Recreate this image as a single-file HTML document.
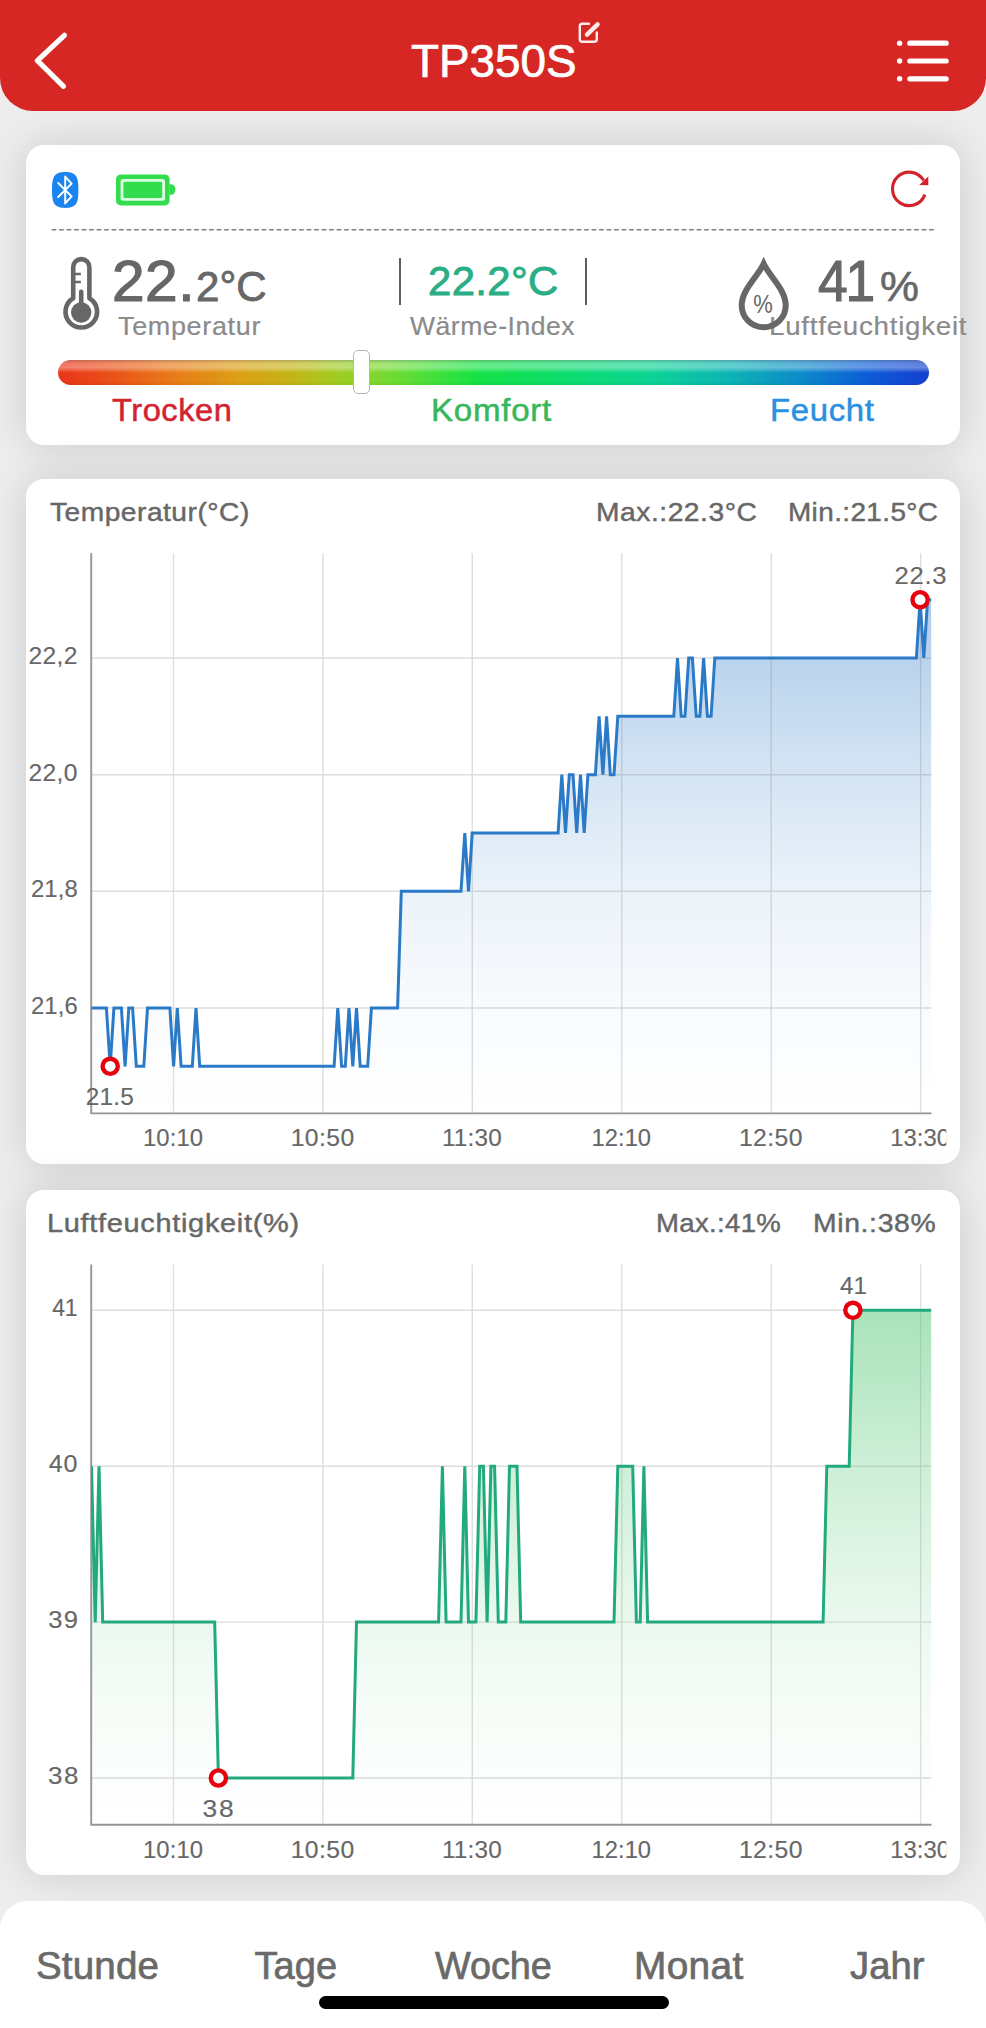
<!DOCTYPE html>
<html lang="de">
<head>
<meta charset="utf-8">
<meta name="viewport" content="width=986">
<title>TP350S</title>
<style>
*{box-sizing:border-box;margin:0;padding:0}
html,body{width:986px;height:2028px;overflow:hidden;background:#ededed;font-family:'Liberation Sans', Arial, Helvetica, sans-serif;}
body{position:relative}
.t{position:absolute;white-space:nowrap;line-height:1;transform-origin:0 0}
.header{position:absolute;left:0;top:0;width:986px;height:110.7px;background:#d62724;border-radius:0 0 33px 33px}
.card{position:absolute;left:26px;width:934px;background:#fff;border-radius:18px;box-shadow:0 0 40px rgba(0,0,0,0.145)}
.tabbar{position:absolute;left:0;top:1901px;width:986px;height:140px;background:#fff;border-radius:28px 28px 0 0}
.home{position:absolute;left:318.5px;top:1995.6px;width:350px;height:13.4px;border-radius:7px;background:#000}
svg{position:absolute;overflow:visible}
svg text{font-family:'Liberation Sans', Arial, Helvetica, sans-serif;}
.bar{position:absolute;left:57.7px;top:360.3px;width:871px;height:25.2px;border-radius:12.6px;
 background:linear-gradient(to bottom,rgba(150,150,150,0.45) 0,rgba(255,255,255,0.32) 13%,rgba(255,255,255,0.36) 30%,rgba(255,255,255,0) 52%,rgba(0,0,0,0) 85%,rgba(0,0,0,0.06) 100%),
 linear-gradient(to right,#ea3418 0,#ea4a18 5%,#e87a18 13%,#dca014 21%,#c4b416 26.7%,#a8c81e 31%,#8cd42a 35%,#6adc32 39%,#30e23e 45%,#14e244 48%,#0cdc6c 58%,#0cd494 68%,#0cb4b4 77%,#0c8cc8 85%,#0c5cd8 93%,#1440d0 100%)}
.knob{position:absolute;left:353.3px;top:350.2px;width:16.4px;height:43.6px;border-radius:5px;background:#fff;border:1.3px solid #b4b4b4}
.vbar{position:absolute;top:257.6px;width:2px;height:47.2px;background:#5e5e5e}
</style>
</head>
<body>
<div class="header"></div>
<svg width="986" height="111" viewBox="0 0 986 111" style="left:0;top:0">
<polyline points="64.4,35.3 37.4,60.6 63.5,86.3" fill="none" stroke="#fff" stroke-width="5.2" stroke-linecap="round" stroke-linejoin="round"/>
<g fill="#fff">
<circle cx="899.6" cy="43.2" r="2.7"/><circle cx="899.6" cy="61" r="2.7"/><circle cx="899.6" cy="78.8" r="2.7"/>
<rect x="907.2" y="40.6" width="41.6" height="5.2" rx="2.6"/><rect x="907.2" y="58.4" width="41.6" height="5.2" rx="2.6"/><rect x="907.2" y="76.2" width="41.6" height="5.2" rx="2.6"/>
</g>
<g fill="none" stroke="#ffecec" stroke-width="2.4" stroke-linecap="round" stroke-linejoin="round">
<path d="M589,23.7 H582.3 a2.5,2.5 0 0 0 -2.5,2.5 V39.2 a2.5,2.5 0 0 0 2.5,2.5 H594.3 a2.5,2.5 0 0 0 2.5,-2.5 V32.5"/>
<path d="M587,34.6 L597.6,24.4" stroke-width="4.4"/>
</g>
</svg>
<div class="t" style="left:410.83px;top:38.16px;font-size:46px;color:#fff;letter-spacing:-0.05px;transform:scaleX(0.9974);-webkit-text-stroke:0.7px #fff;">TP350S</div>

<div class="card" style="top:145px;height:299.7px"></div>
<div class="card" style="top:479px;height:684.6px"></div>
<div class="card" style="top:1189.8px;height:685.2px"></div>

<svg width="934" height="300" viewBox="26 145 934 300" style="left:26px;top:145px">
<path d="M51.6,229.8 H934" stroke="#808080" stroke-width="1.5" stroke-dasharray="4.7 2.8" fill="none"/>
<path d="M65.2,172.1 C76.6,172.1 78.4,177.5 78.4,190 C78.4,202.5 76.6,207.9 65.2,207.9 C53.8,207.9 52,202.5 52,190 C52,177.5 53.8,172.1 65.2,172.1 Z" fill="#1a84f0"/>
<path d="M58.2,183 L71.6,196.4 L65.2,203.4 V176.6 L71.6,183.6 L58.2,197" fill="none" stroke="#fff" stroke-width="2" stroke-linejoin="round" stroke-linecap="round"/>
<rect x="116" y="174.4" width="53.6" height="31" rx="5" fill="#32dc4c"/>
<rect x="120.6" y="179" width="44.4" height="21.8" rx="2.5" fill="#dcffe0"/>
<rect x="123.4" y="181.8" width="38.8" height="16.2" rx="1.5" fill="#32dc4c"/>
<path d="M169.4,184.3 h2 a4,5.2 0 0 1 0,10.4 h-2 z" fill="#32dc4c"/>
<path d="M924.9,194.6 A16.7,16.7 0 1 1 923.7,180.6" fill="none" stroke="#d2232a" stroke-width="3.1"/>
<path d="M928.3,176.4 L928.3,185.3 L919.2,185.1 Z" fill="#d2232a"/>
<path d="M73.2,298.2 V267.2 a8.1,8.1 0 0 1 16.2,0 V298.2 a15.8,15.8 0 1 1 -16.2,0 Z" fill="none" stroke="#676767" stroke-width="4.6" stroke-linejoin="round"/>
<circle cx="81.2" cy="312.5" r="10.2" fill="#676767"/>
<path d="M81.2,291.8 V306" stroke="#676767" stroke-width="4.6" stroke-linecap="round"/>
<path d="M75,274 H80.8 M75,282 H80.8" stroke="#676767" stroke-width="2.4"/>
</svg>


<div class="t" style="left:111.56px;top:252.91px;font-size:57.4px;color:#676767;letter-spacing:0.45px;transform:scaleX(1.0227);-webkit-text-stroke:1.2px #676767;">22.</div>
<div class="t" style="left:195.53px;top:265.95px;font-size:42px;color:#676767;letter-spacing:0.04px;transform:scaleX(1.0023);-webkit-text-stroke:0.8px #676767;">2°C</div>
<div class="t" style="left:117.99px;top:313.84px;font-size:25px;color:#8b8b8b;letter-spacing:0.62px;transform:scaleX(1.0783);-webkit-text-stroke:0.2px #8b8b8b;">Temperatur</div>
<div class="vbar" style="left:398.6px"></div><div class="vbar" style="left:584.5px"></div>
<div class="t" style="left:427.90px;top:260.66px;font-size:40.8px;color:#2bae85;letter-spacing:0.35px;transform:scaleX(1.0263);-webkit-text-stroke:0.9px #2bae85;">22.2°C</div>
<div class="t" style="left:410.31px;top:313.84px;font-size:25px;color:#8b8b8b;letter-spacing:0.51px;transform:scaleX(1.0605);-webkit-text-stroke:0.2px #8b8b8b;">Wärme-Index</div>
<div class="t" style="left:817.52px;top:253.01px;font-size:57.4px;color:#676767;letter-spacing:-2.25px;transform:scaleX(0.9299);-webkit-text-stroke:1.2px #676767;">41</div>
<div class="t" style="left:879.94px;top:266.05px;font-size:42px;color:#676767;transform:scaleX(1.0429);-webkit-text-stroke:0.6px #676767;">%</div>
<div class="t" style="left:768.55px;top:313.64px;font-size:25px;color:#8b8b8b;letter-spacing:0.68px;transform:scaleX(1.1074);-webkit-text-stroke:0.2px #8b8b8b;">Luftfeuchtigkeit</div>
<svg width="60" height="80" viewBox="734 254 60 80" style="left:734px;top:254px">
<path d="M763.7,263.8 C757.5,277 741.7,289.5 741.7,305.6 a22,21.6 0 0 0 44,0 C785.7,289.5 769.9,277 763.7,263.8 Z" fill="none" stroke="#676767" stroke-width="6" stroke-linejoin="miter" stroke-miterlimit="6"/>
<text transform="translate(753.31 313.00) scale(0.8453 1)" style="font-size:26px;fill:#676767;">%</text>
</svg>

<div class="bar"></div><div class="knob"></div>
<div class="t" style="left:112.25px;top:394.66px;font-size:31px;color:#d2232f;letter-spacing:0.52px;transform:scaleX(1.0521);-webkit-text-stroke:0.5px #d2232f;">Trocken</div>
<div class="t" style="left:431.38px;top:394.66px;font-size:31px;color:#35b85a;letter-spacing:0.68px;transform:scaleX(1.0680);-webkit-text-stroke:0.5px #35b85a;">Komfort</div>
<div class="t" style="left:770.40px;top:394.66px;font-size:31px;color:#2a90e0;letter-spacing:0.63px;transform:scaleX(1.0605);-webkit-text-stroke:0.5px #2a90e0;">Feucht</div>

<div class="t" style="left:50.00px;top:498.57px;font-size:26.5px;color:#676767;letter-spacing:0.48px;transform:scaleX(1.0618);-webkit-text-stroke:0.45px #676767;">Temperatur(°C)</div>
<div class="t" style="left:596.34px;top:498.57px;font-size:26.5px;color:#676767;letter-spacing:0.51px;transform:scaleX(1.0640);-webkit-text-stroke:0.45px #676767;">Max.:22.3°C</div>
<div class="t" style="left:787.76px;top:498.57px;font-size:26.5px;color:#676767;letter-spacing:0.39px;transform:scaleX(1.0515);-webkit-text-stroke:0.45px #676767;">Min.:21.5°C</div>
<svg class="chart" width="986" height="630" viewBox="0 533 986 630" style="left:0;top:533px">
<defs><linearGradient id="gt" gradientUnits="userSpaceOnUse" x1="0" y1="553.3" x2="0" y2="1113.4"><stop offset="0.0000" stop-color="#2b7ac8" stop-opacity="0.42"/><stop offset="0.0834" stop-color="#2b7ac8" stop-opacity="0.38"/><stop offset="0.1851" stop-color="#2b7ac8" stop-opacity="0.33"/><stop offset="0.3940" stop-color="#2b7ac8" stop-opacity="0.2"/><stop offset="0.6011" stop-color="#2b7ac8" stop-opacity="0.095"/><stop offset="0.8100" stop-color="#2b7ac8" stop-opacity="0.03"/><stop offset="0.9998" stop-color="#2b7ac8" stop-opacity="0.0"/></linearGradient><clipPath id="gtc"><rect x="91" y="533.3" width="840.5" height="580.1000000000001"/></clipPath><clipPath id="gtx"><rect x="0" y="1113.4" width="946.3" height="60"/></clipPath></defs>
<path d="M173.5,553.3 V1113.4 M322.9,553.3 V1113.4 M472.3,553.3 V1113.4 M621.8,553.3 V1113.4 M771.2,553.3 V1113.4 M920.6,553.3 V1113.4 M91,658.0 H931.5 M91,774.7 H931.5 M91,891.3 H931.5 M91,1008.0 H931.5" stroke="#e9e9e9" stroke-width="1.4" fill="none"/>
<path d="M91.5,1008.0 L106.4,1008.0 L110.2,1066.3 L113.9,1008.0 L121.4,1008.0 L125.1,1066.3 L128.8,1008.0 L132.6,1008.0 L136.3,1066.3 L143.8,1066.3 L147.5,1008.0 L169.9,1008.0 L173.6,1066.3 L177.3,1008.0 L181.1,1066.3 L192.3,1066.3 L196.0,1008.0 L199.7,1066.3 L334.1,1066.3 L337.8,1008.0 L341.6,1066.3 L345.3,1066.3 L349.0,1008.0 L352.8,1066.3 L356.5,1008.0 L360.2,1066.3 L367.7,1066.3 L371.4,1008.0 L397.6,1008.0 L401.3,891.3 L461.0,891.3 L464.8,833.0 L468.5,891.3 L472.2,833.0 L558.1,833.0 L561.8,774.7 L565.5,833.0 L569.3,774.7 L573.0,774.7 L576.7,833.0 L580.5,774.7 L584.2,833.0 L587.9,774.7 L595.4,774.7 L599.1,716.3 L602.9,774.7 L606.6,716.3 L610.3,774.7 L614.0,774.7 L617.8,716.3 L673.8,716.3 L677.5,658.0 L681.2,716.3 L685.0,716.3 L688.7,658.0 L692.4,658.0 L696.2,716.3 L699.9,716.3 L703.6,658.0 L707.4,716.3 L711.1,716.3 L714.8,658.0 L916.4,658.0 L920.1,599.7 L923.8,658.0 L927.6,599.7 L931.3,599.7 L931.3,1113.4 L91.5,1113.4 Z" fill="url(#gt)" clip-path="url(#gtc)"/>
<path d="M173.5,553.3 V1113.4 M322.9,553.3 V1113.4 M472.3,553.3 V1113.4 M621.8,553.3 V1113.4 M771.2,553.3 V1113.4 M920.6,553.3 V1113.4 M91,658.0 H931.5 M91,774.7 H931.5 M91,891.3 H931.5 M91,1008.0 H931.5" stroke="#707070" stroke-opacity="0.09" stroke-width="1.4" fill="none"/>
<path d="M91.2,553.3 V1113.4 M90.4,1113.4 H931.5" stroke="#969696" stroke-width="1.9" fill="none"/>
<path d="M91.5,1008.0 L106.4,1008.0 L110.2,1066.3 L113.9,1008.0 L121.4,1008.0 L125.1,1066.3 L128.8,1008.0 L132.6,1008.0 L136.3,1066.3 L143.8,1066.3 L147.5,1008.0 L169.9,1008.0 L173.6,1066.3 L177.3,1008.0 L181.1,1066.3 L192.3,1066.3 L196.0,1008.0 L199.7,1066.3 L334.1,1066.3 L337.8,1008.0 L341.6,1066.3 L345.3,1066.3 L349.0,1008.0 L352.8,1066.3 L356.5,1008.0 L360.2,1066.3 L367.7,1066.3 L371.4,1008.0 L397.6,1008.0 L401.3,891.3 L461.0,891.3 L464.8,833.0 L468.5,891.3 L472.2,833.0 L558.1,833.0 L561.8,774.7 L565.5,833.0 L569.3,774.7 L573.0,774.7 L576.7,833.0 L580.5,774.7 L584.2,833.0 L587.9,774.7 L595.4,774.7 L599.1,716.3 L602.9,774.7 L606.6,716.3 L610.3,774.7 L614.0,774.7 L617.8,716.3 L673.8,716.3 L677.5,658.0 L681.2,716.3 L685.0,716.3 L688.7,658.0 L692.4,658.0 L696.2,716.3 L699.9,716.3 L703.6,658.0 L707.4,716.3 L711.1,716.3 L714.8,658.0 L916.4,658.0 L920.1,599.7 L923.8,658.0 L927.6,599.7 L931.3,599.7" stroke="#2b7ac8" stroke-width="3.0" fill="none" stroke-linejoin="miter" stroke-miterlimit="3" clip-path="url(#gtc)"/>
<circle cx="110.2" cy="1066.3" r="7.6" fill="#fff" stroke="#e8000e" stroke-width="4.4"/>
<text transform="translate(85.63 1105.00) scale(1.0331 1)" style="font-size:23.6px;fill:#676767;letter-spacing:0.27px;stroke:#676767;stroke-width:0.15px;">21.5</text>
<circle cx="920.1" cy="599.7" r="7.6" fill="#fff" stroke="#e8000e" stroke-width="4.4"/>
<text transform="translate(894.38 583.80) scale(1.0856 1)" style="font-size:23.6px;fill:#676767;letter-spacing:0.71px;stroke:#676767;stroke-width:0.15px;">22.3</text>
<text transform="translate(28.42 663.90) scale(1.0444 1)" style="font-size:23.6px;fill:#676767;letter-spacing:0.36px;stroke:#676767;stroke-width:0.15px;">22,2</text>
<text transform="translate(28.43 780.56) scale(1.0417 1)" style="font-size:23.6px;fill:#676767;letter-spacing:0.34px;stroke:#676767;stroke-width:0.15px;">22,0</text>
<text transform="translate(30.96 897.22) scale(1.0115 1)" style="font-size:23.6px;fill:#676767;letter-spacing:0.09px;stroke:#676767;stroke-width:0.15px;">21,8</text>
<text transform="translate(30.96 1013.88) scale(1.0115 1)" style="font-size:23.6px;fill:#676767;letter-spacing:0.09px;stroke:#676767;stroke-width:0.15px;">21,6</text>
<g clip-path="url(#gtx)"><text transform="translate(142.98 1145.90) scale(1.0119 1)" style="font-size:23.6px;fill:#676767;letter-spacing:0.09px;stroke:#676767;stroke-width:0.15px;">10:10</text></g>
<g clip-path="url(#gtx)"><text transform="translate(290.65 1145.90) scale(1.0493 1)" style="font-size:23.6px;fill:#676767;letter-spacing:0.39px;stroke:#676767;stroke-width:0.15px;">10:50</text></g>
<g clip-path="url(#gtx)"><text transform="translate(441.90 1145.90) scale(1.0301 1)" style="font-size:23.6px;fill:#676767;letter-spacing:0.23px;stroke:#676767;stroke-width:0.15px;">11:30</text></g>
<g clip-path="url(#gtx)"><text transform="translate(591.55 1145.90) scale(1.0052 1)" style="font-size:23.6px;fill:#676767;letter-spacing:0.04px;stroke:#676767;stroke-width:0.15px;">12:10</text></g>
<g clip-path="url(#gtx)"><text transform="translate(738.91 1145.90) scale(1.0493 1)" style="font-size:23.6px;fill:#676767;letter-spacing:0.39px;stroke:#676767;stroke-width:0.15px;">12:50</text></g>
<g clip-path="url(#gtx)"><text transform="translate(890.19 1145.90) scale(1.0097 1)" style="font-size:23.6px;fill:#676767;letter-spacing:0.07px;stroke:#676767;stroke-width:0.15px;">13:30</text></g>
</svg>

<div class="t" style="left:46.68px;top:1209.57px;font-size:26.5px;color:#676767;letter-spacing:0.63px;transform:scaleX(1.0922);-webkit-text-stroke:0.45px #676767;">Luftfeuchtigkeit(%)</div>
<div class="t" style="left:655.98px;top:1209.57px;font-size:26.5px;color:#676767;letter-spacing:0.34px;transform:scaleX(1.0380);-webkit-text-stroke:0.45px #676767;">Max.:41%</div>
<div class="t" style="left:813.33px;top:1209.57px;font-size:26.5px;color:#676767;letter-spacing:0.60px;transform:scaleX(1.0697);-webkit-text-stroke:0.45px #676767;">Min.:38%</div>
<svg class="chart" width="986" height="630" viewBox="0 1244 986 630" style="left:0;top:1244px">
<defs><linearGradient id="gh" gradientUnits="userSpaceOnUse" x1="0" y1="1264.4" x2="0" y2="1824.7"><stop offset="0.0000" stop-color="#64cd82" stop-opacity="0.62"/><stop offset="0.0903" stop-color="#64cd82" stop-opacity="0.55"/><stop offset="0.3598" stop-color="#64cd82" stop-opacity="0.32"/><stop offset="0.6382" stop-color="#64cd82" stop-opacity="0.13"/><stop offset="0.7774" stop-color="#64cd82" stop-opacity="0.06"/><stop offset="0.9167" stop-color="#64cd82" stop-opacity="0.02"/><stop offset="1.0000" stop-color="#64cd82" stop-opacity="0.0"/></linearGradient><clipPath id="ghc"><rect x="91" y="1244.4" width="840.5" height="580.3"/></clipPath><clipPath id="ghx"><rect x="0" y="1824.7" width="946.3" height="60"/></clipPath></defs>
<path d="M173.5,1264.4 V1824.7 M322.9,1264.4 V1824.7 M472.3,1264.4 V1824.7 M621.8,1264.4 V1824.7 M771.2,1264.4 V1824.7 M920.6,1264.4 V1824.7 M91,1310.3 H931.5 M91,1466.2 H931.5 M91,1622.1 H931.5 M91,1778.0 H931.5" stroke="#e9e9e9" stroke-width="1.4" fill="none"/>
<path d="M91.5,1466.2 L95.2,1622.1 L99.0,1466.2 L102.7,1622.1 L214.7,1622.1 L218.4,1778.0 L352.8,1778.0 L356.5,1622.1 L438.6,1622.1 L442.4,1466.2 L446.1,1622.1 L461.0,1622.1 L464.8,1466.2 L468.5,1622.1 L475.9,1622.1 L479.7,1466.2 L483.4,1466.2 L487.1,1622.1 L490.9,1466.2 L494.6,1466.2 L498.3,1622.1 L505.8,1622.1 L509.5,1466.2 L517.0,1466.2 L520.7,1622.1 L614.0,1622.1 L617.8,1466.2 L632.7,1466.2 L636.4,1622.1 L640.2,1622.1 L643.9,1466.2 L647.6,1622.1 L823.1,1622.1 L826.8,1466.2 L849.2,1466.2 L852.9,1310.3 L931.3,1310.3 L931.3,1824.7 L91.5,1824.7 Z" fill="url(#gh)" clip-path="url(#ghc)"/>
<path d="M173.5,1264.4 V1824.7 M322.9,1264.4 V1824.7 M472.3,1264.4 V1824.7 M621.8,1264.4 V1824.7 M771.2,1264.4 V1824.7 M920.6,1264.4 V1824.7 M91,1310.3 H931.5 M91,1466.2 H931.5 M91,1622.1 H931.5 M91,1778.0 H931.5" stroke="#707070" stroke-opacity="0.09" stroke-width="1.4" fill="none"/>
<path d="M91.2,1264.4 V1824.7 M90.4,1824.7 H931.5" stroke="#969696" stroke-width="1.9" fill="none"/>
<path d="M91.5,1466.2 L95.2,1622.1 L99.0,1466.2 L102.7,1622.1 L214.7,1622.1 L218.4,1778.0 L352.8,1778.0 L356.5,1622.1 L438.6,1622.1 L442.4,1466.2 L446.1,1622.1 L461.0,1622.1 L464.8,1466.2 L468.5,1622.1 L475.9,1622.1 L479.7,1466.2 L483.4,1466.2 L487.1,1622.1 L490.9,1466.2 L494.6,1466.2 L498.3,1622.1 L505.8,1622.1 L509.5,1466.2 L517.0,1466.2 L520.7,1622.1 L614.0,1622.1 L617.8,1466.2 L632.7,1466.2 L636.4,1622.1 L640.2,1622.1 L643.9,1466.2 L647.6,1622.1 L823.1,1622.1 L826.8,1466.2 L849.2,1466.2 L852.9,1310.3 L931.3,1310.3" stroke="#22aa7e" stroke-width="3.0" fill="none" stroke-linejoin="miter" stroke-miterlimit="3" clip-path="url(#ghc)"/>
<circle cx="218.4" cy="1778.0" r="7.6" fill="#fff" stroke="#e8000e" stroke-width="4.4"/>
<text transform="translate(202.46 1817.10) scale(1.1181 1)" style="font-size:23.6px;fill:#676767;letter-spacing:1.68px;stroke:#676767;stroke-width:0.15px;">38</text>
<circle cx="852.9" cy="1310.3" r="7.6" fill="#fff" stroke="#e8000e" stroke-width="4.4"/>
<text transform="translate(839.90 1293.50) scale(1.0211 1)" style="font-size:23.6px;fill:#676767;letter-spacing:0.29px;stroke:#676767;stroke-width:0.15px;">41</text>
<text transform="translate(52.31 1316.20) scale(0.9744 1)" style="font-size:23.6px;fill:#676767;letter-spacing:-0.34px;stroke:#676767;stroke-width:0.15px;">41</text>
<text transform="translate(48.69 1472.10) scale(1.0631 1)" style="font-size:23.6px;fill:#676767;letter-spacing:0.89px;stroke:#676767;stroke-width:0.15px;">40</text>
<text transform="translate(48.28 1628.00) scale(1.0828 1)" style="font-size:23.6px;fill:#676767;letter-spacing:1.15px;stroke:#676767;stroke-width:0.15px;">39</text>
<text transform="translate(47.97 1783.90) scale(1.0994 1)" style="font-size:23.6px;fill:#676767;letter-spacing:1.40px;stroke:#676767;stroke-width:0.15px;">38</text>
<g clip-path="url(#ghx)"><text transform="translate(142.98 1857.50) scale(1.0119 1)" style="font-size:23.6px;fill:#676767;letter-spacing:0.09px;stroke:#676767;stroke-width:0.15px;">10:10</text></g>
<g clip-path="url(#ghx)"><text transform="translate(290.65 1857.50) scale(1.0493 1)" style="font-size:23.6px;fill:#676767;letter-spacing:0.39px;stroke:#676767;stroke-width:0.15px;">10:50</text></g>
<g clip-path="url(#ghx)"><text transform="translate(441.90 1857.50) scale(1.0301 1)" style="font-size:23.6px;fill:#676767;letter-spacing:0.23px;stroke:#676767;stroke-width:0.15px;">11:30</text></g>
<g clip-path="url(#ghx)"><text transform="translate(591.55 1857.50) scale(1.0052 1)" style="font-size:23.6px;fill:#676767;letter-spacing:0.04px;stroke:#676767;stroke-width:0.15px;">12:10</text></g>
<g clip-path="url(#ghx)"><text transform="translate(738.91 1857.50) scale(1.0493 1)" style="font-size:23.6px;fill:#676767;letter-spacing:0.39px;stroke:#676767;stroke-width:0.15px;">12:50</text></g>
<g clip-path="url(#ghx)"><text transform="translate(890.19 1857.50) scale(1.0097 1)" style="font-size:23.6px;fill:#676767;letter-spacing:0.07px;stroke:#676767;stroke-width:0.15px;">13:30</text></g>
</svg>

<div class="tabbar"></div>
<div class="t" style="left:36.45px;top:1947.23px;font-size:38px;color:#6a6a6a;letter-spacing:0.17px;transform:scaleX(1.0136);-webkit-text-stroke:0.7px #6a6a6a;">Stunde</div>
<div class="t" style="left:254.56px;top:1947.23px;font-size:38px;color:#6a6a6a;letter-spacing:0.03px;-webkit-text-stroke:0.7px #6a6a6a;">Tage</div>
<div class="t" style="left:434.85px;top:1947.23px;font-size:38px;color:#6a6a6a;letter-spacing:-0.07px;transform:scaleX(0.9953);-webkit-text-stroke:0.7px #6a6a6a;">Woche</div>
<div class="t" style="left:633.82px;top:1947.23px;font-size:38px;color:#6a6a6a;letter-spacing:0.31px;transform:scaleX(1.0219);-webkit-text-stroke:0.7px #6a6a6a;">Monat</div>
<div class="t" style="left:850.26px;top:1947.23px;font-size:38px;color:#6a6a6a;letter-spacing:0.05px;transform:scaleX(1.0040);-webkit-text-stroke:0.7px #6a6a6a;">Jahr</div>
<div class="home"></div>
</body>
</html>
